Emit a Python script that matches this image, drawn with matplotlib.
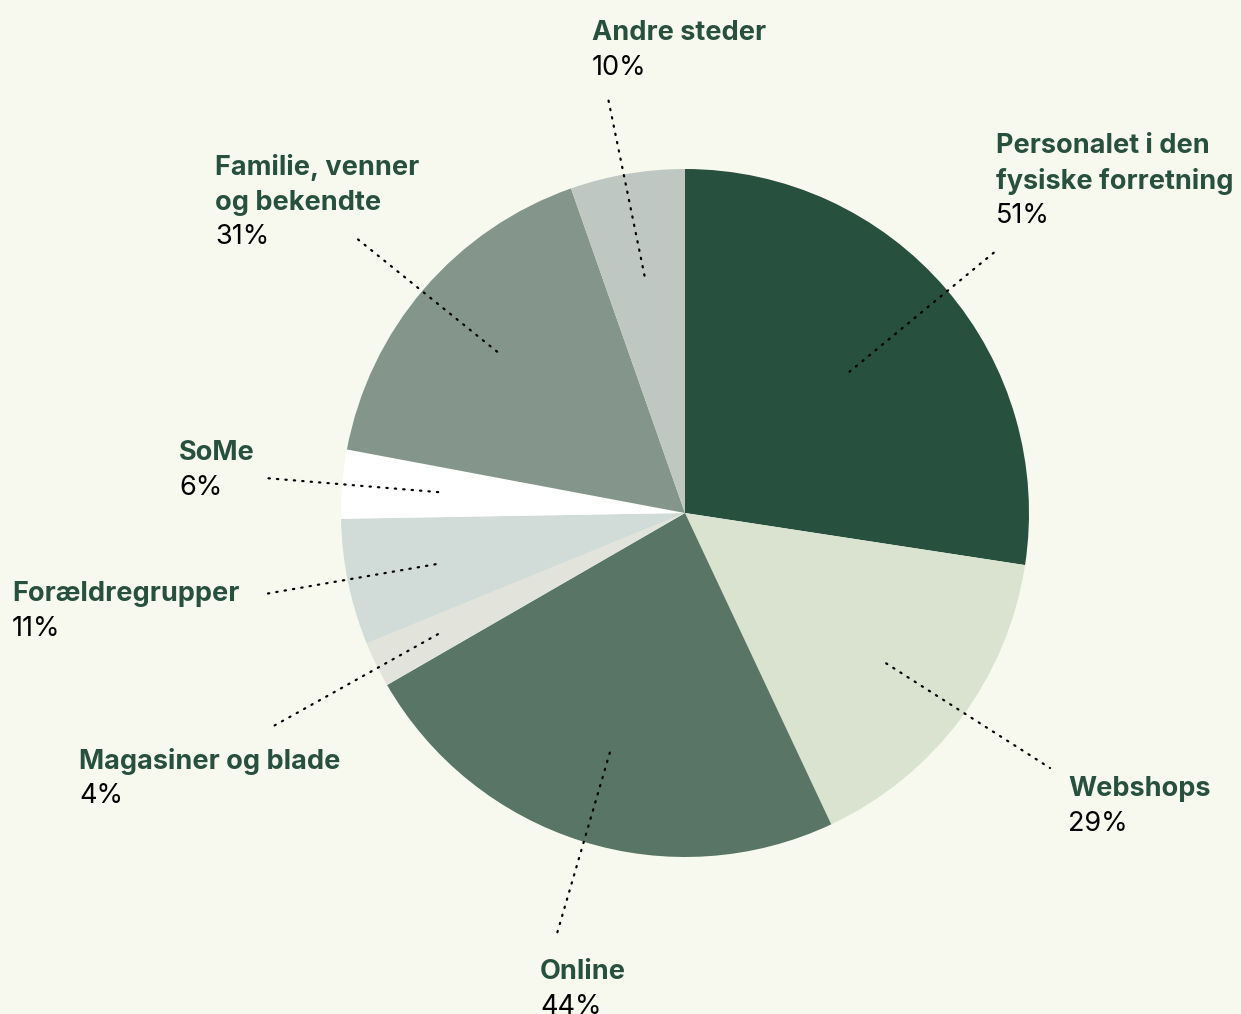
import numpy as np
import matplotlib.pyplot as plt

# data
labels = ["Personalet i den\nfysiske forretning", "Webshops", "Online", "Magasiner og blade",
          "Forældregrupper", "SoMe", "Familie, venner\nog bekendte", "Andre steder"]
values = [51, 29, 44, 4, 11, 6, 31, 10]
colors = ["#27503e", "#dae3cf", "#587565", "#e2e3da", "#d1dbd7", "#ffffff", "#84968b", "#bec7c2"]

# label anchor (top-left of text, pixel coords) and leader line outer end
label_pos = [(996, 133), (1068, 776), (540, 959), (79, 748), (12, 581), (179, 440), (215, 154), (592, 20)]
leader_end = [(997, 250), (1050, 768), (556, 937), (270, 728), (265, 594), (265, 478), (355, 237), (608, 98)]
leader_r = [0.63, 0.73, 0.73, 0.80, 0.74, 0.72, 0.72, 0.70]

W, H = 1241, 1014
bg = "#f8f9ee"
green = "#27503e"
cx, cy, R = 685, 513, 344

plt.rcParams['font.family'] = ['Inter', 'DejaVu Sans']
fig = plt.figure(figsize=(W / 100, H / 100), dpi=100, facecolor=bg)
ax = fig.add_axes([0, 0, 1, 1])
ax.set_facecolor(bg)

wedges, _ = ax.pie(values, colors=colors, startangle=90, counterclock=False,
                   center=(cx, H - cy), radius=R, frame=True,
                   wedgeprops=dict(linewidth=0))
ax.set_xlim(0, W)
ax.set_ylim(0, H)
ax.set_aspect('equal')
ax.axis('off')

for w, lab, pct, (lx, ly), (ex, ey), rf in zip(wedges, labels, values, label_pos, leader_end, leader_r):
    mid = np.deg2rad((w.theta1 + w.theta2) / 2)
    sx = cx + rf * R * np.cos(mid)
    sy = (H - cy) + rf * R * np.sin(mid)
    ax.plot([sx, ex], [sy, H - ey], color="black", lw=1.6,
            linestyle=(0, (0.6, 3.2)), dash_capstyle='round')
    nlines = lab.count("\n") + 1
    ax.text(lx, H - ly, lab, ha='left', va='top', fontsize=19.5, fontweight='bold',
            color=green, linespacing=1.45)
    ax.text(lx, H - ly - 35 * nlines, f"{pct}%", ha='left', va='top', fontsize=19.5,
            color="black")

fig.savefig("out.png", dpi=100, facecolor=bg)
